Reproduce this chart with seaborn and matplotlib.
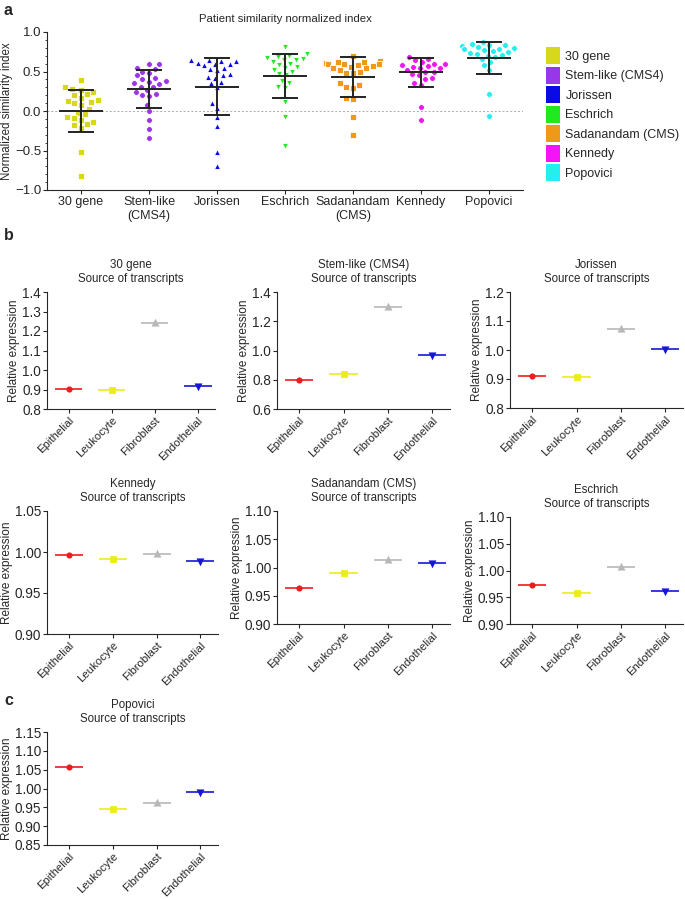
import numpy as np
import pandas as pd
import matplotlib
matplotlib.use('Agg')
import matplotlib.pyplot as plt
from matplotlib.patches import Patch
from matplotlib.ticker import MultipleLocator
import seaborn as sns

# ---- panel a data ----
groups = ['30 gene', 'Stem-like (CMS4)', 'Jorissen', 'Eschrich',
          'Sadanandam (CMS)', 'Kennedy', 'Popovici']
tick_labels = ['30 gene', 'Stem-like\n(CMS4)', 'Jorissen', 'Eschrich',
               'Sadanandam\n(CMS)', 'Kennedy', 'Popovici']
group_colors = ['#d8d81a', '#9a35e8', '#0a0ae6', '#22e822',
                '#ee9a18', '#f414f4', '#22f0f0']
group_markers = ['s', 'o', '^', 'v', 's', 'o', 'o']

gene30 = [0.39, 0.30, 0.28, 0.27, 0.24, 0.22, 0.20, 0.17, 0.14, 0.13, 0.11, 0.10,
          0.07, 0.03, -0.02, -0.04, -0.08, -0.09, -0.11, -0.14, -0.16, -0.18,
          -0.21, -0.52, -0.82]
stemlike = [0.60, 0.59, 0.55, 0.53, 0.50, 0.48, 0.45, 0.42, 0.40, 0.38, 0.37, 0.35,
            0.34, 0.31, 0.30, 0.27, 0.24, 0.22, 0.20, 0.19, 0.08, 0.00, -0.12,
            -0.23, -0.34]
jorissen = [0.65, 0.64, 0.63, 0.63, 0.61, 0.60, 0.59, 0.58, 0.55, 0.53, 0.52, 0.47,
            0.45, 0.43, 0.42, 0.37, 0.35, 0.30, 0.10, 0.04, -0.08, -0.19, -0.52, -0.70]
eschrich = [0.81, 0.72, 0.70, 0.68, 0.67, 0.66, 0.65, 0.64, 0.62, 0.60, 0.58, 0.56,
            0.54, 0.52, 0.50, 0.47, 0.45, 0.38, 0.36, 0.30, 0.29, 0.11, -0.08, -0.44]
sadanandam = [0.69, 0.63, 0.62, 0.62, 0.61, 0.60, 0.60, 0.59, 0.58, 0.57, 0.56, 0.55,
              0.54, 0.52, 0.50, 0.48, 0.48, 0.35, 0.33, 0.30, 0.29, 0.16, 0.15,
              -0.07, -0.31]
kennedy = [0.68, 0.66, 0.64, 0.62, 0.60, 0.60, 0.58, 0.57, 0.56, 0.55, 0.54, 0.52,
           0.50, 0.49, 0.47, 0.45, 0.42, 0.40, 0.36, 0.33, 0.05, -0.11]
popovici = [0.87, 0.85, 0.84, 0.83, 0.82, 0.81, 0.80, 0.79, 0.78, 0.77, 0.76, 0.75,
            0.74, 0.72, 0.71, 0.70, 0.68, 0.66, 0.62, 0.58, 0.52, 0.21, -0.06]
group_values = [gene30, stemlike, jorissen, eschrich, sadanandam, kennedy, popovici]

# mean and SD
group_mean = [0.00, 0.28, 0.31, 0.44, 0.43, 0.49, 0.67]
group_sd = [0.27, 0.24, 0.355, 0.28, 0.25, 0.18, 0.205]

# ---- panel b / c data ----
cells = ['Epithelial', 'Leukocyte', 'Fibroblast', 'Endothelial']
cell_colors = ['#ee1c1c', '#ecec1a', '#b8b8b8', '#1616d8']
cell_markers = ['o', 's', '^', 'v']

expr_30gene = [0.905, 0.898, 1.240, 0.920]
expr_stemlike = [0.800, 0.840, 1.300, 0.970]
expr_jorissen = [0.910, 0.906, 1.072, 1.005]
expr_kennedy = [0.996, 0.992, 0.998, 0.989]
expr_sadanandam = [0.963, 0.990, 1.013, 1.008]
expr_eschrich = [0.972, 0.958, 1.006, 0.961]
expr_popovici = [1.056, 0.946, 0.962, 0.990]

sns.set_style('ticks')
plt.rcParams['font.family'] = ['Liberation Sans', 'DejaVu Sans']
plt.rcParams['font.size'] = 8
plt.rcParams['xtick.major.size'] = 3
plt.rcParams['ytick.major.size'] = 3
plt.rcParams['xtick.major.pad'] = 1.5
plt.rcParams['ytick.major.pad'] = 1.2
plt.rcParams['axes.labelpad'] = 1.5

W, H = 685, 899
fig = plt.figure(figsize=(W / 100, H / 100), dpi=100)


def px_axes(l, r, t, b):
    return fig.add_axes([l / W, 1 - b / H, (r - l) / W, (b - t) / H])


# ---------------- panel a ----------------
df = pd.DataFrame({
    'group': np.repeat(groups, [len(v) for v in group_values]),
    'value': np.concatenate(group_values),
})

ax = px_axes(47, 523, 32, 190)
for g, c, m in zip(groups, group_colors, group_markers):
    sns.swarmplot(data=df[df.group == g], x='group', y='value', order=groups,
                  color=c, marker=m, size=4.2, linewidth=0.6, edgecolor='white',
                  ax=ax)

pos = np.arange(len(groups))
ax.hlines(group_mean, pos - 0.33, pos + 0.33, colors='#222222', lw=1.4, zorder=5)
ax.errorbar(pos, group_mean, yerr=group_sd, fmt='none', ecolor='#222222',
            elinewidth=1.4, capsize=9.5, capthick=1.4, zorder=5)
ax.axhline(0, color='#aaaaaa', lw=0.7, ls=(0, (2, 2)), zorder=0)

ax.set_xlim(-0.5, 6.5)
ax.set_ylim(-1.0, 1.0)
ax.yaxis.set_major_locator(MultipleLocator(0.5))
ax.yaxis.set_minor_locator(MultipleLocator(0.1))
ax.set_yticklabels([f'{v:.1f}'.replace('-', '\u2212') for v in ax.get_yticks()])
ax.set_xticks(pos)
ax.set_xticklabels(tick_labels, fontsize=9)
ax.tick_params(axis='y', labelsize=9.5)
ax.tick_params(which='minor', length=1.8)
ax.set_xlabel('')
ax.set_ylabel('Normalized similarity index', fontsize=8.3)
ax.set_title('Patient similarity normalized index', fontsize=8.2, pad=7)
sns.despine(ax=ax)

handles = [Patch(facecolor=c, edgecolor='none', label=g)
           for g, c in zip(groups, group_colors)]
fig.legend(handles=handles, loc='upper left', bbox_to_anchor=(546 / W, 1 - 47 / H),
           frameon=False, fontsize=9, handlelength=1.15, handleheight=1.75,
           handletextpad=0.4, labelspacing=0.18, borderaxespad=0, borderpad=0)

# ---------------- panels b and c ----------------
panels = [
    ('30 gene', expr_30gene, (0.8, 1.4), 0.1, '{:.1f}', (47, 215, 292, 409)),
    ('Stem-like (CMS4)', expr_stemlike, (0.6, 1.4), 0.2, '{:.1f}', (277, 450, 292, 409)),
    ('Jorissen', expr_jorissen, (0.8, 1.2), 0.1, '{:.1f}', (510, 683, 292, 408)),
    ('Kennedy', expr_kennedy, (0.90, 1.05), 0.05, '{:.2f}', (47, 218, 511, 634)),
    ('Sadanandam (CMS)', expr_sadanandam, (0.90, 1.10), 0.05, '{:.2f}', (277, 450, 511, 624)),
    ('Eschrich', expr_eschrich, (0.90, 1.10), 0.05, '{:.2f}', (510, 683, 517, 624)),
    ('Popovici', expr_popovici, (0.85, 1.15), 0.05, '{:.2f}', (47, 218, 732, 845)),
]

for name, vals, ylim, step, fmt, box in panels:
    bx = px_axes(*box)
    sns.pointplot(x=cells, y=vals, hue=cells, order=cells, hue_order=cells,
                  palette=cell_colors, markers=cell_markers, linestyles='none',
                  errorbar=None, markersize=2.4, legend=False, ax=bx)
    idx = np.arange(len(cells))
    bx.hlines(vals, idx - 0.32, idx + 0.32, colors=cell_colors, lw=1.2)
    bx.set_xlim(-0.5, 3.4)
    bx.set_ylim(*ylim)
    ticks = np.arange(ylim[0], ylim[1] + step / 2, step)
    bx.set_yticks(ticks)
    bx.set_yticklabels([fmt.format(t) for t in ticks], fontsize=9.8)
    bx.set_xticks(idx)
    bx.set_xticklabels(cells, rotation=45, ha='right', rotation_mode='anchor',
                       fontsize=8.2)
    bx.set_ylabel('Relative expression', fontsize=8.5)
    bx.set_xlabel('')
    bx.set_title(f'{name}\nSource of transcripts', fontsize=8.3, pad=7,
                 linespacing=1.3)
    sns.despine(ax=bx)

for letter, y in [('a', 3), ('b', 228), ('c', 693)]:
    fig.text(4 / W, 1 - y / H, letter, fontsize=11.5, fontweight='bold', va='top')

fig.savefig('out.png', dpi=100)
